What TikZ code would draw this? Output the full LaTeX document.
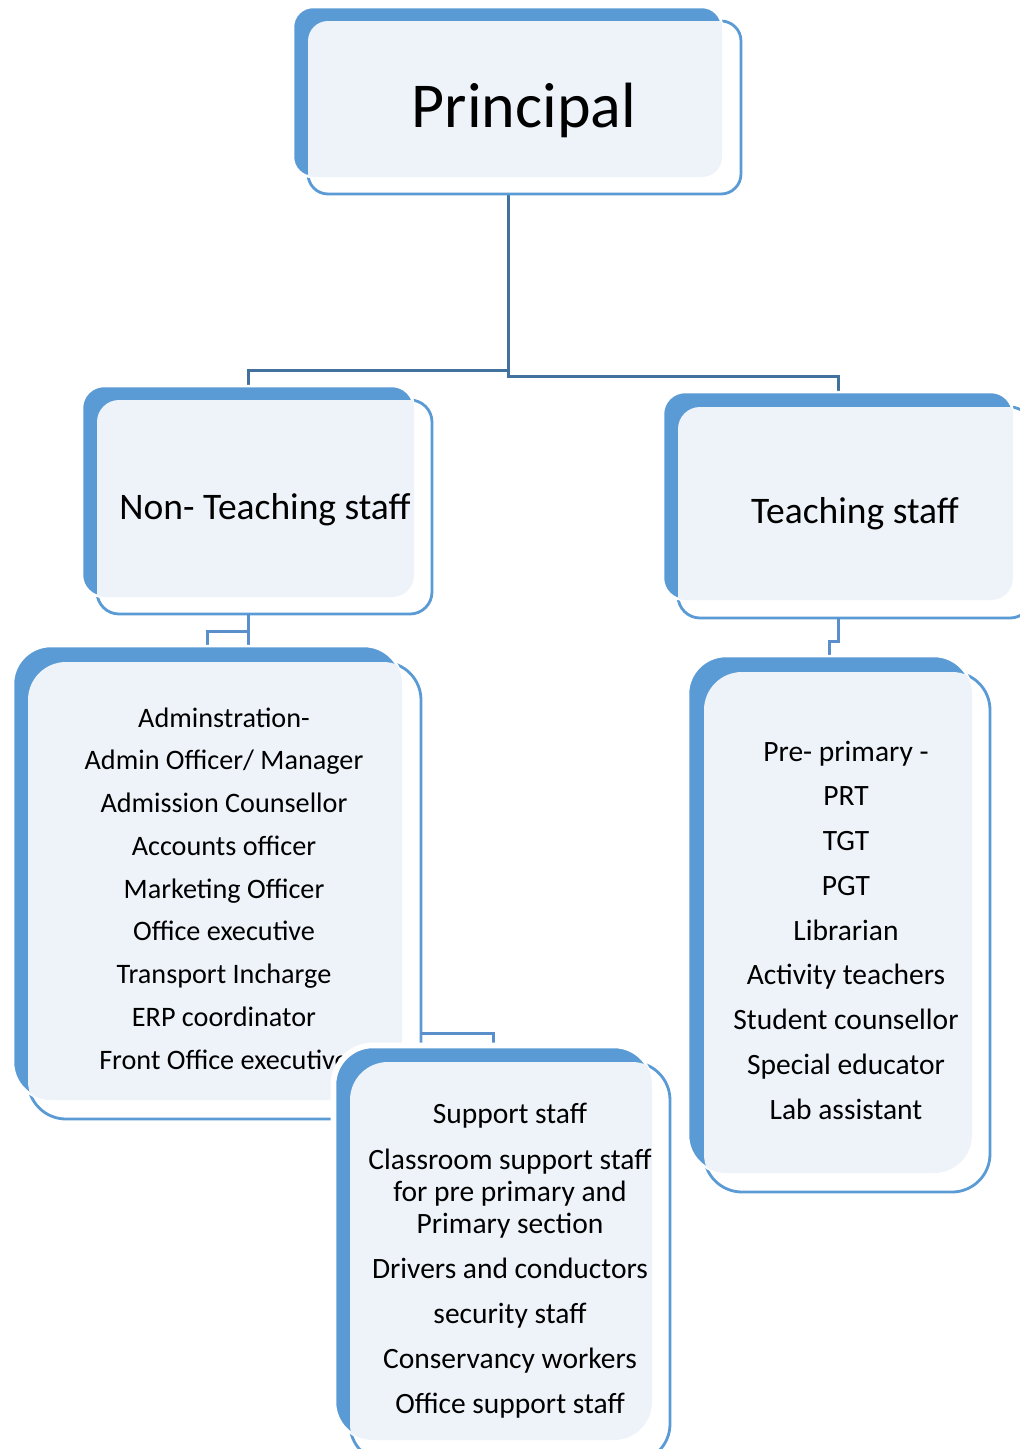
\documentclass[tikz,border=0pt]{standalone}
\usepackage{fontspec}
\setmainfont{Carlito}
\definecolor{accent}{HTML}{5B9BD5}
\definecolor{lightbg}{HTML}{EEF3FA}
\definecolor{connA}{HTML}{41719C}
\definecolor{connB}{HTML}{5A8FCB}
\tikzset{
  outlinebox/.style={fill=white, draw=accent, line width=2.8pt},
  bluebox/.style={fill=accent, draw=white, line width=2.5pt},
  halo/.style={fill=white, draw=white, line width=9pt},
  lightbox/.style={fill=lightbg},
  conn/.style={draw=connA, line width=3pt},
  conntwo/.style={draw=connB, line width=3pt},
  lbl/.style={inner sep=0pt, anchor=base, text=black},
  bigtext/.style={font=\fontsize{64}{70}\selectfont},
  midtext/.style={font=\fontsize{37.5}{44}\selectfont},
  smalltext/.style={font=\fontsize{28.2}{33}\selectfont},
  smalltexttwo/.style={font=\fontsize{29.5}{35}\selectfont},
}
% name, blue corner 1, blue corner 2, outline corner 1, outline corner 2, radius
\newcommand\orgbox[6]{%
  \coordinate (#1-b1) at (#2);
  \coordinate (#1-b2) at (#3);
  \coordinate (#1-o1) at (#4);
  \coordinate (#1-o2) at (#5);
  \path[outlinebox, rounded corners=#6] (#1-o1) rectangle (#1-o2);
  \path[bluebox, rounded corners=#6] (#1-b1) rectangle (#1-b2);
  \begin{scope}
    \clip[rounded corners=#6] (#1-o1) rectangle (#1-o2);
    \fill[lightbox, rounded corners=#6] (#1-b1) rectangle (#1-b2);
  \end{scope}
}
\begin{document}
\begin{tikzpicture}[x=1pt, y=-1pt]
\useasboundingbox (0,0) rectangle (1020,1449);
\clip (0,0) rectangle (1020,1449);
\fill[white] (0,0) rectangle (1020,1449);

% connectors (drawn first, boxes go over them)
\coordinate (pbot) at (508,194);
\coordinate (ntop) at (248,386);
\coordinate (ttop) at (838,392);
\draw[conn] (pbot) -- (508,370) -| (ntop);
\draw[conn] (pbot) -- (508,376) -| (ttop);

% Principal
\orgbox{pr}{293,7}{722,177}{308,21}{741,194}{20pt}
\node[lbl, bigtext] (principal) at (524,127) {Principal};

% Non-Teaching staff
\orgbox{nt}{82,386}{414,597}{97,400}{432,614}{22pt}
\node[lbl, midtext] (nonteach) at (265,519) {Non- Teaching staff};

% Teaching staff
\orgbox{te}{663,392}{1013,600}{678,407}{1032,618}{22pt}
\node[lbl, midtext] (teach) at (855,523) {Teaching staff};

% connectors to lower level
\coordinate (ntbot) at (248,614);
\coordinate (ntjoin) at (248,631);
\coordinate (ltop) at (248,646);
\coordinate (ltopb) at (207,646);
\draw[conntwo] (ntbot) -- (ltop);
\draw[conntwo] (ntjoin) -| (ltopb);
\coordinate (tebot) at (838,618);
\coordinate (rtop) at (829,656);
\draw[conntwo] (tebot) -- (838,641) -| (rtop);

% Left list box
\orgbox{ll}{13,646}{402,1100}{28,662}{421,1119}{38pt}
\foreach \t [count=\i] in {Adminstration-, Admin Officer/ Manager, Admission Counsellor, Accounts officer, Marketing Officer, Office executive, Transport Incharge, ERP coordinator, Front Office executive}
  \node[lbl, smalltext] (L\i) at (224,{727+42.75*(\i-1)}) {\t};

% Right list box
\orgbox{rl}{688,656}{972,1173}{704,672}{990,1192}{38pt}
\foreach \t [count=\i] in {Pre- primary -, PRT, TGT, PGT, Librarian, Activity teachers, Student counsellor, Special educator, Lab assistant}
  \node[lbl, smalltexttwo] (R\i) at (846,{761+44.75*(\i-1)}) {\t};

% connector left list -> support box
\coordinate (lside) at (421,1033);
\coordinate (stop) at (493,1047);
\draw[conntwo] (lside) -| (stop);

% Support box, with a white rim where it covers the list box
\path[halo, rounded corners=38pt] (335,1047) rectangle (652,1440);
\orgbox{su}{335,1047}{652,1440}{350,1062}{670,1462}{38pt}
\node[lbl, smalltexttwo] (S1) at (510,1123) {Support staff};
\node[lbl, smalltexttwo] (S2) at (510,1169) {Classroom support staff};
\node[lbl, smalltexttwo] (S3) at (510,1201) {for pre primary and};
\node[lbl, smalltexttwo] (S4) at (510,1233) {Primary section};
\node[lbl, smalltexttwo] (S5) at (510,1278) {Drivers and conductors};
\node[lbl, smalltexttwo] (S6) at (510,1323) {security staff};
\node[lbl, smalltexttwo] (S7) at (510,1368) {Conservancy workers};
\node[lbl, smalltexttwo] (S8) at (510,1413) {Office support staff};
\end{tikzpicture}
\end{document}
